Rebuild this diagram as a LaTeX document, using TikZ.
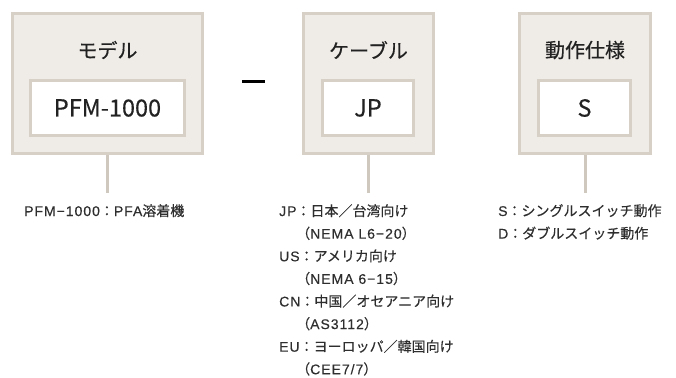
\documentclass[tikz,border=0pt]{standalone}
\usepackage{fontspec}
\setmainfont{Noto Sans CJK JP}
\newfontfamily\jpm[FakeBold=0.35]{Noto Sans CJK JP}
\newfontfamily\jpl[FakeBold=0.3]{Noto Sans CJK JP}
\newfontfamily\lwfont[FakeBold=0.3,LetterSpace=7]{Liberation Sans}
\newcommand{\lw}[1]{{\lwfont #1}}
\definecolor{boxfill}{HTML}{EFECE7}
\definecolor{boxline}{HTML}{D6D0C6}
\definecolor{connline}{HTML}{CFC8BE}
\definecolor{txt}{HTML}{222222}
\definecolor{listtxt}{HTML}{2E2E2E}
\tikzset{
  outerbox/.style={draw=boxline, fill=boxfill, line width=3pt, minimum height=140pt, inner sep=0pt},
  innerbox/.style={draw=boxline, fill=white, line width=3pt, minimum height=55pt, inner sep=0pt, text=txt, font=\jpm\fontsize{23.5}{26}\selectfont},
  titletext/.style={text=txt, font=\jpm\fontsize{20}{24}\selectfont, inner sep=0pt},
  conn/.style={draw=connline, line width=3pt},
  listtext/.style={text=listtxt, font=\jpl\fontsize{14}{22.6}\selectfont, align=left, anchor=north west, inner sep=0pt},
}
\begin{document}
\begin{tikzpicture}[x=1pt,y=-1pt]
\useasboundingbox (0,0) rectangle (676,377);
% outer boxes
\node[outerbox, minimum width=190pt] (mo) at (107.5,83.5) {};
\node[outerbox, minimum width=130pt] (co) at (368.5,83.5) {};
\node[outerbox, minimum width=131pt] (so) at (585,83.5) {};
% titles
\node[titletext] (mt) at (107.5,50) {モデル};
\node[titletext] (ct) at (368.5,50) {ケーブル};
\node[titletext] (st) at (585,50) {動作仕様};
% inner boxes
\node[innerbox, minimum width=154pt] (mi) at (107.5,108) {PFM-1000};
\node[innerbox, minimum width=91pt] (ci) at (368,108) {JP};
\node[innerbox, minimum width=92pt] (si) at (584.5,108) {S};
% dash
\node[fill=black, minimum width=23pt, minimum height=3pt, inner sep=0pt] (dash) at (253.5,82) {};
% connectors
\coordinate (me) at (107.5,193);
\coordinate (ce) at (368.5,193);
\coordinate (se) at (585,193);
\draw[conn] (mo.south) -- (me);
\draw[conn] (co.south) -- (ce);
\draw[conn] (so.south) -- (se);
% lists
\node[listtext] (ml) at (24,204) {\lw{PFM−1000}：\lw{PFA}溶着機};
\node[listtext] (cl) at (279,204) {\lw{JP}：日本／台湾向け\\
\hspace*{17pt}（\lw{NEMA L6−20}）\\
\lw{US}：アメリカ向け\\
\hspace*{17pt}（\lw{NEMA 6−15}）\\
\lw{CN}：中国／オセアニア向け\\
\hspace*{17pt}（\lw{AS3112}）\\
\lw{EU}：ヨーロッパ／韓国向け\\
\hspace*{17pt}（\lw{CEE7/7}）};
\node[listtext] (sl) at (498,204) {\lw{S}：シングルスイッチ動作\\\lw{D}：ダブルスイッチ動作};
\end{tikzpicture}
\end{document}
